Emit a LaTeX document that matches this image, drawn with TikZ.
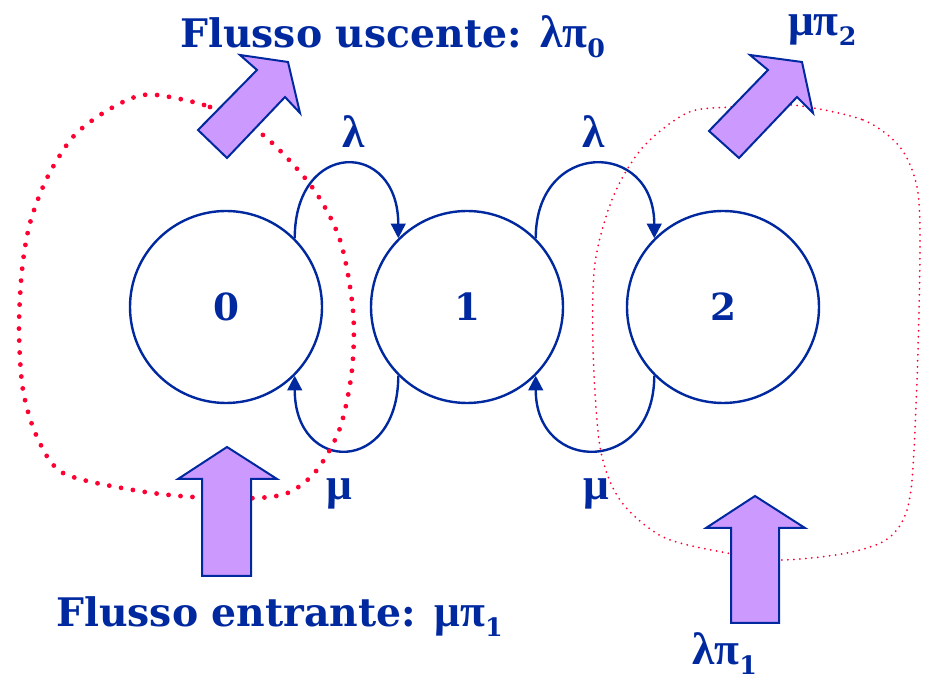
\documentclass[tikz,border=0pt]{standalone}
\usepackage{fontspec}
\setmainfont{DejaVu Serif}
\newfontfamily\greek{Liberation Serif}
\usepackage{tikz}
\usetikzlibrary{arrows.meta}
\definecolor{navy}{HTML}{0029A0}
\definecolor{lilac}{HTML}{CC99FF}
\definecolor{dotred}{HTML}{FF0033}
\newcommand{\lbl}{\fontsize{29.5}{34}\selectfont}
\newcommand{\gr}[1]{{\fontsize{34}{38}\selectfont\greek\bfseries #1}}
\newcommand{\idx}[1]{\raisebox{-7pt}{\fontsize{19}{20}\selectfont\bfseries #1}}

\begin{document}
\begin{tikzpicture}[x=0.75pt, y=-0.75pt,
    state/.style={circle, draw=navy, line width=1.8pt, minimum size=144pt, inner sep=0pt, font=\fontsize{28}{32}\selectfont\bfseries, text=navy},
    rate/.style={draw=navy, line width=1.8pt, -{Triangle[length=11pt,width=11pt]}},
    ratelbl/.style={text=navy, anchor=base},
    flowtxt/.style={font=\lbl\bfseries, text=navy, anchor=base west, inner sep=0pt},
    bigdots/.style={dotred, line width=3.6pt, line cap=round, dash pattern=on 0pt off 9pt},
    smalldots/.style={dotred, line width=1.5pt, line cap=round, dash pattern=on 0pt off 4.5pt},
    flowarrow/.style={draw=navy, fill=lilac, line width=1.5pt, line join=miter}]
    \useasboundingbox (0,0) rectangle (926,680);

    \node[state] (s0) at (226,307) {0};
    \node[state] (s1) at (467,307) {1};
    \node[state] (s2) at (723,307) {2};

    \draw[rate] (s0.45) .. controls +(0,-99) and +(0,-99) .. (s1.135);
    \draw[rate] (s1.225) .. controls +(0,99) and +(0,99) .. (s0.315);
    \draw[rate] (s1.45) .. controls +(0,-99) and +(0,-99) .. (s2.135);
    \draw[rate] (s2.225) .. controls +(0,99) and +(0,99) .. (s1.315);

    \node[ratelbl] (l01) at (354,148) {\gr{λ}};
    \node[ratelbl] (l12) at (594,148) {\gr{λ}};
    \node[ratelbl] (m10) at (339,500) {\gr{μ}};
    \node[ratelbl] (m21) at (596,500) {\gr{μ}};

    \draw[bigdots] plot[smooth cycle] coordinates {(157,95) (210,107) (263,135) (312,187) (340,240) (353,310) (352,370) (340,428) (317,470) (290,492) (257,498) (193,497) (133,490) (63,473) (37,437) (23,390) (19,330) (22,270) (30,223) (47,178) (72,138) (100,115) (132,98)};
    \draw[smalldots] plot[smooth cycle] coordinates {(793,105) (863,120) (900,147) (917,187) (920,247) (917,380) (910,497) (890,537) (847,553) (780,560) (727,553) (663,537) (620,500) (600,447) (593,347) (595,263) (613,197) (643,147) (687,113) (730,107)};

    \draw[flowarrow] (240,55) -- (288,62) -- (300,113) -- (285,97) -- (227,158) -- (198,130) -- (257,70) -- cycle;
    \draw[flowarrow] (750,55) -- (802,62) -- (813,113) -- (797,97) -- (739,158) -- (709,131) -- (768,70) -- cycle;
    \draw[flowarrow] (227,447) -- (277,479) -- (251,479) -- (251,576) -- (202,576) -- (202,479) -- (178,479) -- cycle;
    \draw[flowarrow] (755,496) -- (805,528) -- (779,528) -- (779,623) -- (731,623) -- (731,528) -- (706,528) -- cycle;

    \node[flowtxt] (out0) at (180,48) {Flusso uscente: \gr{λπ}\idx{0}};
    \node[flowtxt] (out2) at (788,36) {\gr{μπ}\idx{2}};
    \node[flowtxt] (in0) at (56,627) {Flusso entrante: \gr{μπ}\idx{1}};
    \node[flowtxt] (in2) at (692,665) {\gr{λπ}\idx{1}};
\end{tikzpicture}
\end{document}
